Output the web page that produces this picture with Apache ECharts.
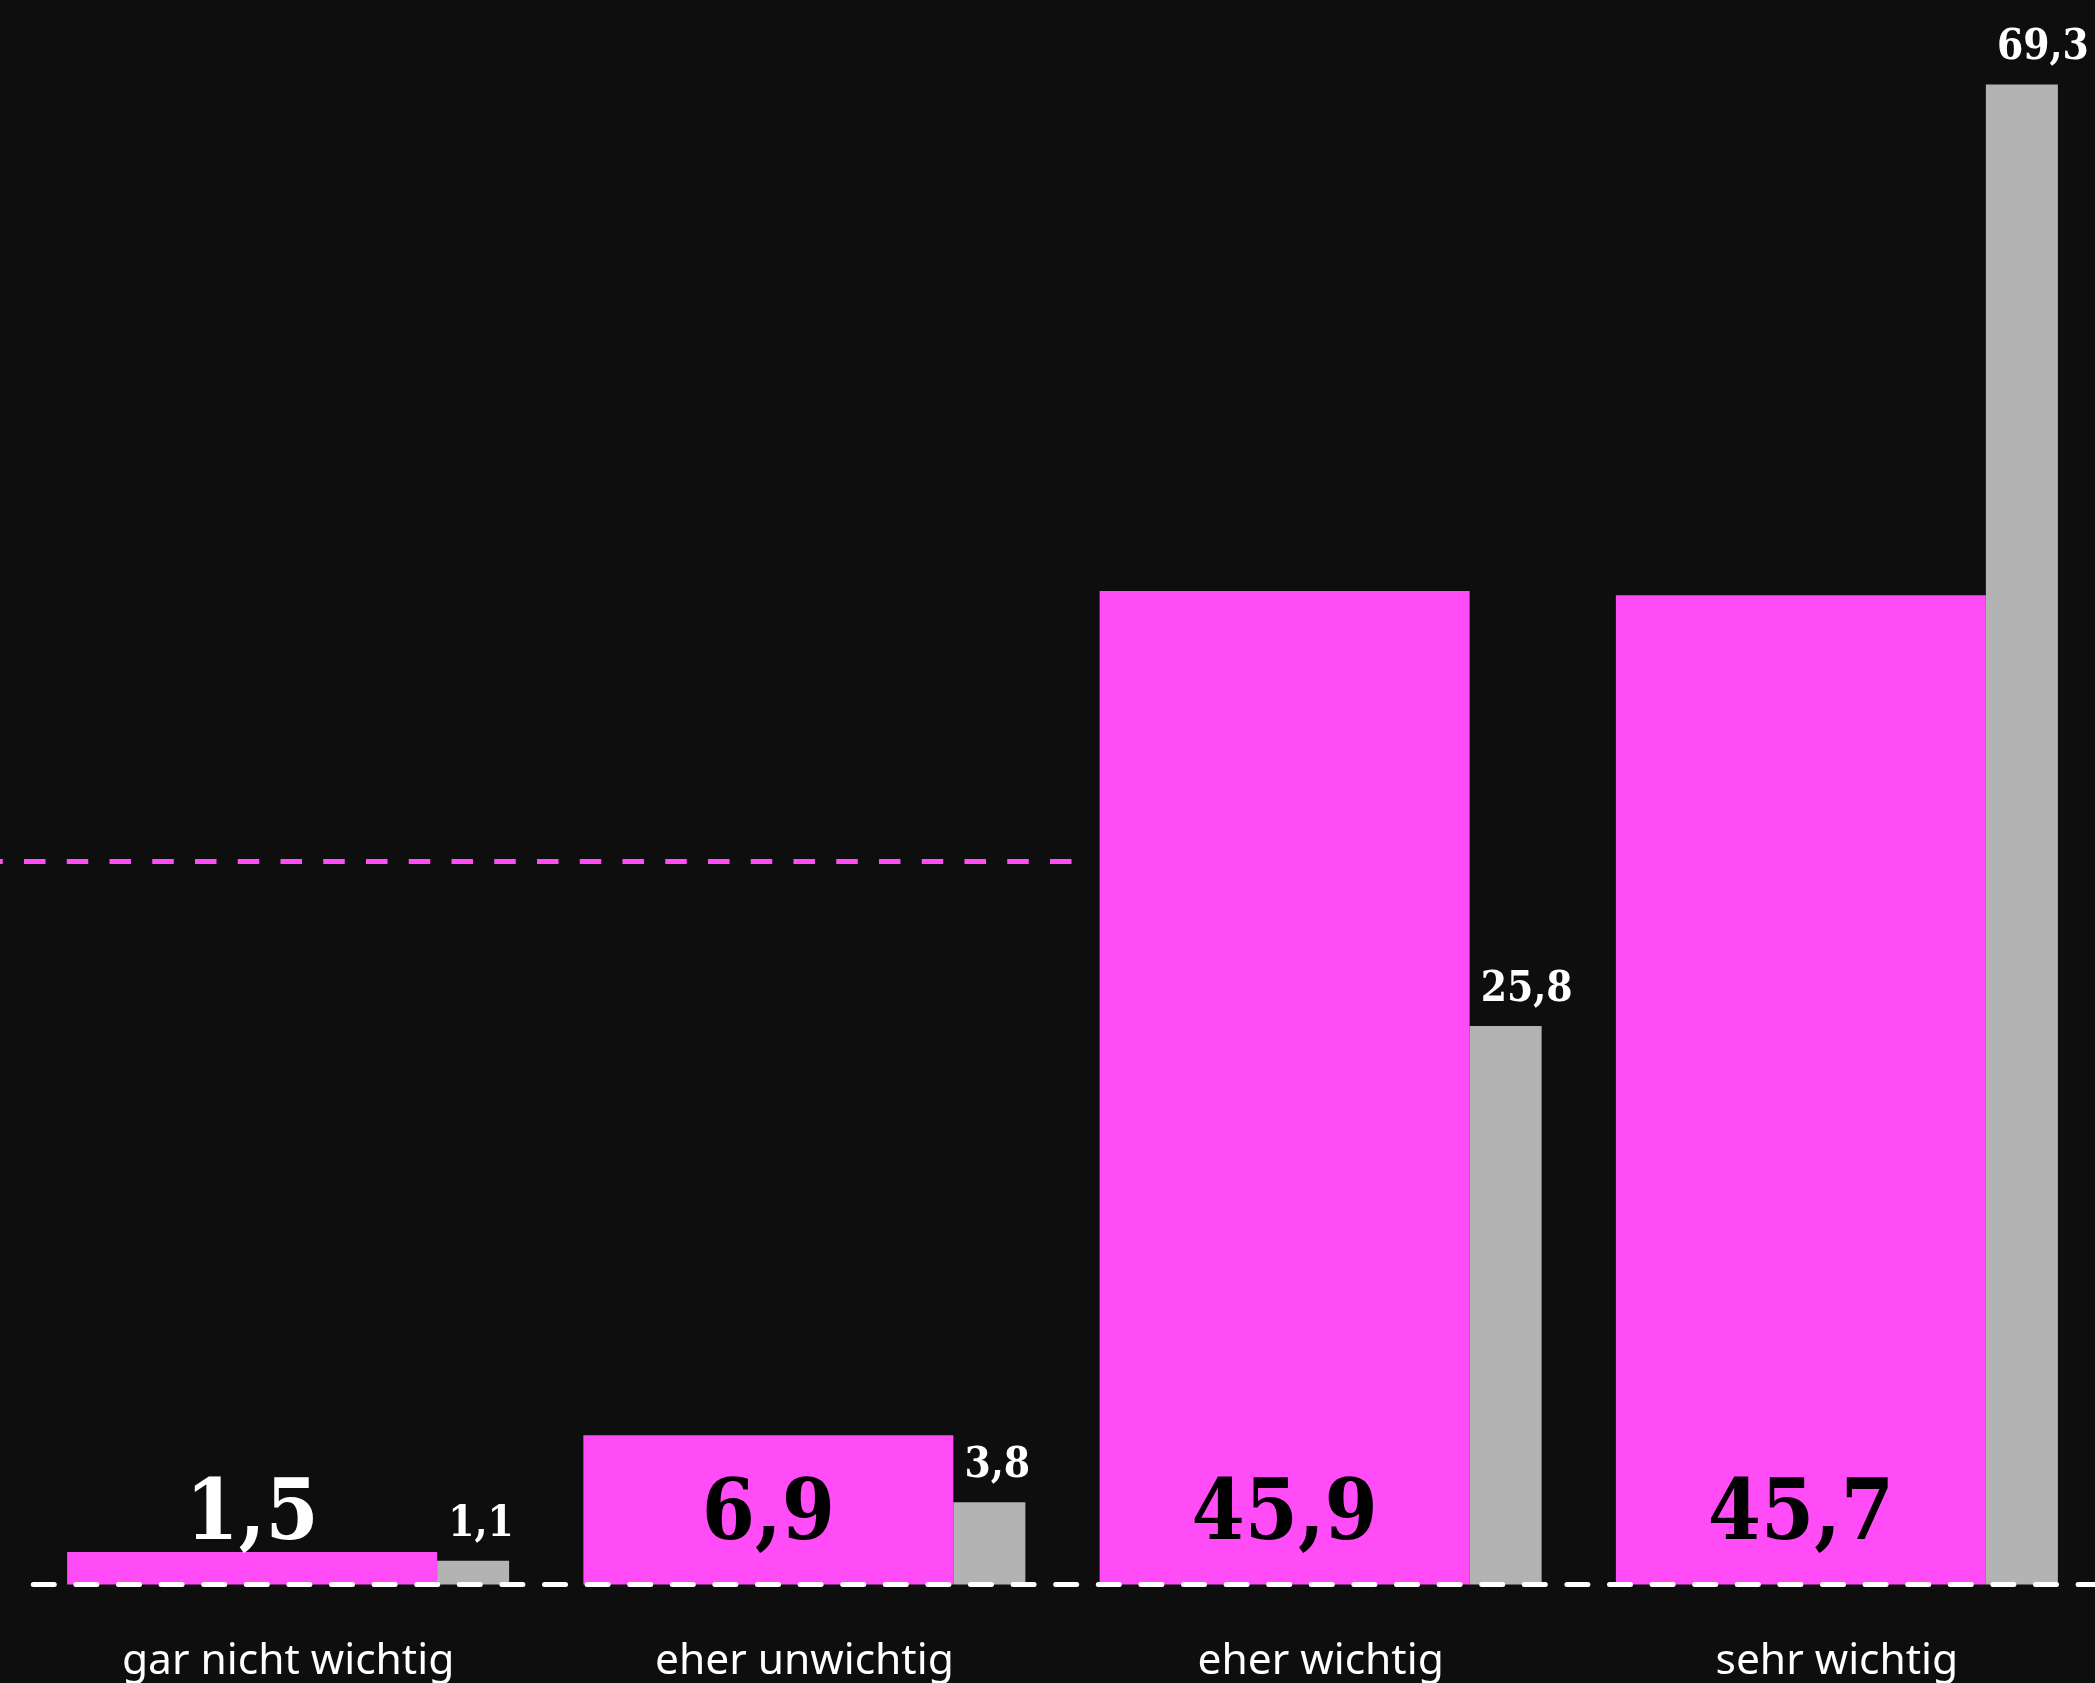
<!DOCTYPE html>
<html>
<head>
<meta charset="utf-8">
<title>Wichtigkeit</title>
<script src="https://cdn.jsdelivr.net/npm/echarts@6/dist/echarts.min.js"></script>
<style>
  html, body { margin: 0; padding: 0; background: #0e0e0e; }
  #chart { width: 2095px; height: 1683px; }
</style>
</head>
<body>
<div id="chart"></div>
<script>
// Antwortkategorien
const categories = ['gar nicht wichtig', 'eher unwichtig', 'eher wichtig', 'sehr wichtig'];
// Anteile in Prozent
const mainValues = [1.5, 6.9, 45.9, 45.7];
const compareValues = [1.1, 3.8, 25.8, 69.3];
// Referenzwert (gestrichelte Linie)
const referenceValue = 33.4;

const PINK = '#ff4cf6';
const GREY = '#b3b3b3';
const SERIF = '"DejaVu Serif Condensed", "DejaVu Serif", serif';
const SANS = '"Noto Sans", "Open Sans", sans-serif';

// Dezimalkomma
const fmt = v => String(v).replace('.', ',');

// Werte, deren Balken zu niedrig für das Label sind, bekommen ein weißes Label
const insideMin = 5;

const chart = echarts.init(document.getElementById('chart'), null, { renderer: 'canvas' });

chart.setOption({
  backgroundColor: '#0e0e0e',
  animation: false,
  grid: { left: 30, right: -2, top: 69.4, bottom: 96 },
  xAxis: {
    type: 'category',
    data: categories,
    z: 10,
    axisLine: {
      show: true,
      lineStyle: { color: '#ffffff', width: 5, type: [21, 21.6], dashOffset: 39.3 }
    },
    axisTick: { show: false },
    axisLabel: {
      color: '#ffffff',
      fontFamily: SANS,
      fontSize: 42.5,
      lineHeight: 42,
      margin: 56
    }
  },
  yAxis: {
    type: 'value',
    min: 0,
    max: 70,
    show: false,
    splitLine: { show: false }
  },
  series: [
    {
      name: 'Befragte',
      type: 'bar',
      barWidth: 370,
      barGap: '0%',
      itemStyle: { color: PINK },
      data: mainValues.map(v => ({
        value: v,
        label: { color: v < insideMin ? '#ffffff' : '#000000' }
      })),
      label: {
        show: true,
        position: 'insideBottom',
        distance: 25,
        fontFamily: SERIF,
        fontWeight: 'bold',
        fontSize: 85,
        lineHeight: 85,
        formatter: p => fmt(p.value)
      },
      markLine: {
        silent: true,
        symbol: 'none',
        label: { show: false },
        lineStyle: { color: PINK, width: 5, type: [21.5, 21.25], dashOffset: 18.75 },
        data: [[{ x: 0, yAxis: referenceValue }, { x: 1080, yAxis: referenceValue }]]
      }
    },
    {
      name: 'Vergleich',
      type: 'bar',
      barWidth: 72,
      barGap: '0%',
      itemStyle: { color: GREY },
      data: compareValues,
      label: {
        show: true,
        position: [11, -36],
        align: 'left',
        verticalAlign: 'middle',
        color: '#ffffff',
        fontFamily: SERIF,
        fontWeight: 'bold',
        fontSize: 42,
        lineHeight: 42,
        formatter: p => fmt(p.value)
      }
    }
  ]
});
</script>
</body>
</html>
